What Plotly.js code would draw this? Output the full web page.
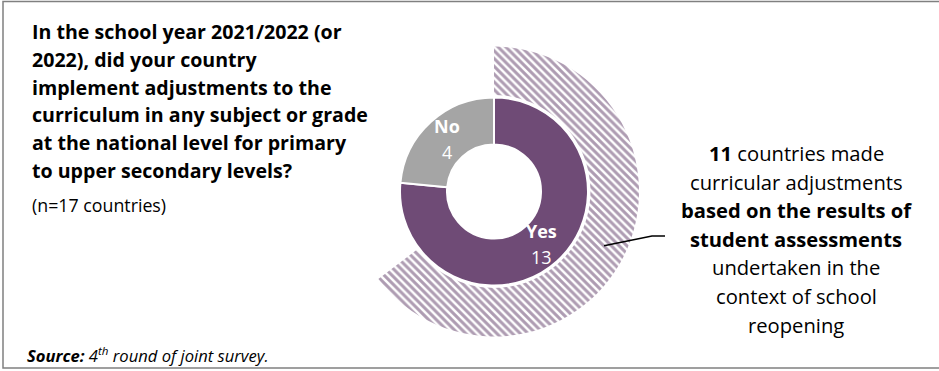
<!DOCTYPE html>
<html>
<head>
<meta charset="utf-8">
<script src="https://cdn.plot.ly/plotly-3.0.1.min.js"></script>
<style>html,body{margin:0;padding:0;background:#fff;}#chart{width:939px;height:371px;}</style>
</head>
<body>
<div id="chart"></div>
<script>
// ---- data ----
const categories = ["Yes", "No"];
const answerCounts = [13, 4];
const assessmentLabels = ["Based on student assessments", "Other"];
const assessmentCounts = [11, 6];
const totalCountries = 17;

const titleLines = [
  "In the school year 2021/2022 (or",
  "2022), did your country",
  "implement adjustments to the",
  "curriculum in any subject or grade",
  "at the national level for primary",
  "to upper secondary levels?"
];
const subtitleText = "(n=" + totalCountries + " countries)";
const noteLines = [
  "<b>" + assessmentCounts[0] + "</b> countries made",
  "curricular adjustments",
  "<b>based on the results of</b>",
  "<b>student assessments</b>",
  "undertaken in the",
  "context of school",
  "reopening"
];
const sourceText = "<b>Source:</b> 4<sup>th</sup> round of joint survey.";

// ---- layout helpers (pixel -> paper) ----
const W = 939, H = 371;
const px = x => x / W;
const py = y => 1 - y / H;
const FONT = "'Open Sans', sans-serif";
const purple = "#6f4b76";
const grey = "#a5a5a5";

const cx = 494, cy = 191.5;
const rOuter = 145, rInner = 94, innerHole = 0.5;

const traces = [
  {
    type: "pie",
    labels: assessmentLabels,
    values: assessmentCounts,
    sort: false,
    direction: "clockwise",
    rotation: 0,
    hole: 0.665,
    domain: {x: [px(cx - rOuter), px(cx + rOuter)], y: [py(cy + rOuter), py(cy - rOuter)]},
    marker: {
      colors: ["#ffffff", "rgba(0,0,0,0)"],
      line: {width: 0},
      pattern: {shape: ["\\", ""], fgcolor: "#5e3a66", bgcolor: ["#ffffff", "rgba(0,0,0,0)"], size: 5.5, solidity: 0.55, fillmode: "overlay"}
    },
    textinfo: "none",
    hoverinfo: "skip",
    showlegend: false
  },
  {
    type: "pie",
    labels: categories,
    values: answerCounts,
    sort: false,
    direction: "clockwise",
    rotation: 0,
    hole: innerHole,
    domain: {x: [px(cx - rInner), px(cx + rInner)], y: [py(cy + rInner), py(cy - rInner)]},
    marker: {colors: [purple, grey], line: {color: "#ffffff", width: 2}},
    textinfo: "none",
    hoverinfo: "skip",
    showlegend: false
  }
];

const annotations = [];

// slice labels, placed at the middle of each slice's ring (computed from the values)
const total = answerCounts.reduce((a, b) => a + b, 0);
const rMid = rInner * (1 + innerHole) / 2;
let cum = 0;
categories.forEach((c, i) => {
  const frac = (cum + answerCounts[i] / 2) / total;
  cum += answerCounts[i];
  const th = 2 * Math.PI * frac;
  const lx = cx + rMid * Math.sin(th);
  const ly = cy - rMid * Math.cos(th);
  annotations.push({xref: "paper", yref: "paper", x: px(lx), y: py(ly - 13), xanchor: "center", yanchor: "middle",
    text: "<b>" + c + "</b>", showarrow: false, font: {family: FONT, size: 18, color: "#ffffff"}});
  annotations.push({xref: "paper", yref: "paper", x: px(lx), y: py(ly + 13), xanchor: "center", yanchor: "middle",
    text: String(answerCounts[i]), showarrow: false, font: {family: FONT, size: 18, color: "#ffffff"}});
});

const titleY = [31.7, 59.4, 87.1, 114.8, 142.5, 170.2];
titleLines.forEach((t, i) => annotations.push({
  xref: "paper", yref: "paper", x: px(30), y: py(titleY[i]), xanchor: "left", yanchor: "middle",
  text: "<b>" + t + "</b>", showarrow: false, font: {family: FONT, size: 19.6, color: "#000"}
}));
annotations.push({
  xref: "paper", yref: "paper", x: px(30), y: py(205), xanchor: "left", yanchor: "middle",
  text: subtitleText, showarrow: false, font: {family: FONT, size: 17.8, color: "#000"}
});
const noteY0 = 153, noteStep = 28.6;
noteLines.forEach((t, i) => annotations.push({
  xref: "paper", yref: "paper", x: px(796), y: py(noteY0 + i * noteStep), xanchor: "center", yanchor: "middle",
  text: t, showarrow: false, font: {family: FONT, size: 20.2, color: "#000"}
}));
annotations.push({
  xref: "paper", yref: "paper", x: px(25), y: py(355), xanchor: "left", yanchor: "middle",
  text: "<i>" + sourceText + "</i>", showarrow: false, font: {family: FONT, size: 16.6, color: "#000"}
});

const shapes = [
  {type: "rect", xref: "paper", yref: "paper", x0: px(3), x1: px(950), y0: py(368), y1: py(1.5),
   line: {color: "#808080", width: 1.5}, fillcolor: "rgba(0,0,0,0)", layer: "below"},
  {type: "path", xref: "paper", yref: "paper",
   path: "M" + px(604) + "," + py(245.7) + " L" + px(652) + "," + py(236) + " L" + px(665) + "," + py(236),
   line: {color: "#000", width: 1.5}}
];

const layout = {
  width: W, height: H,
  margin: {l: 0, r: 0, t: 0, b: 0},
  paper_bgcolor: "#ffffff",
  plot_bgcolor: "#ffffff",
  showlegend: false,
  annotations: annotations,
  shapes: shapes,
  font: {family: FONT}
};

Plotly.newPlot("chart", traces, layout, {displayModeBar: false, staticPlot: true});
</script>
</body>
</html>
